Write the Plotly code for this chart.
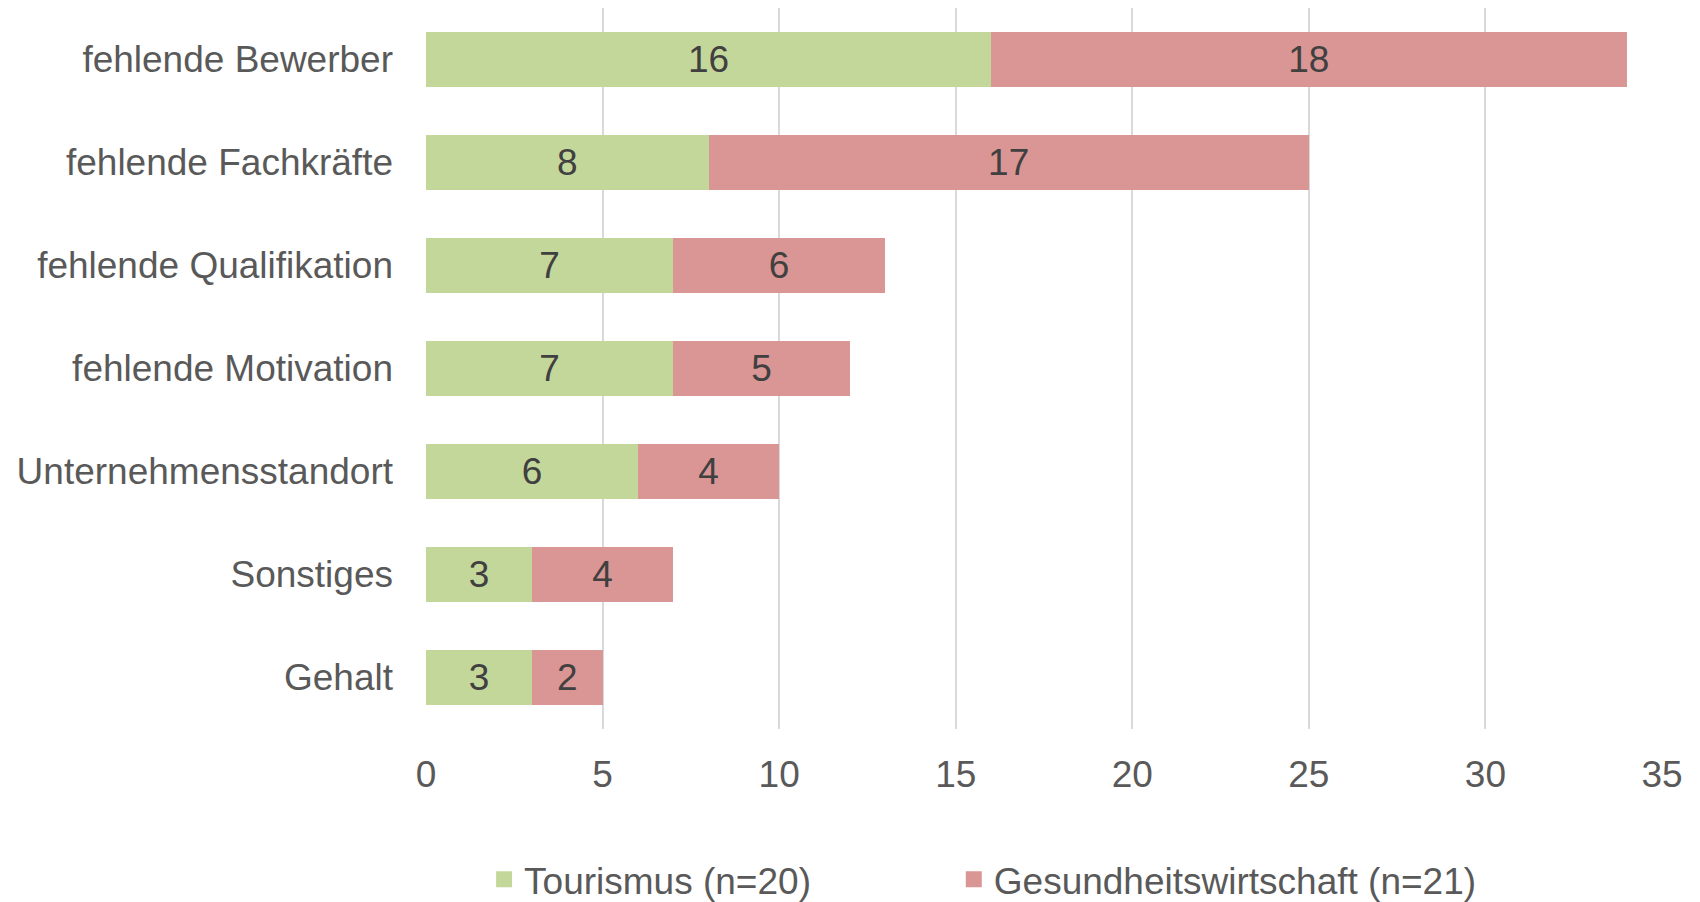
import plotly.graph_objects as go

# categories top to bottom as in the chart
categories = ["fehlende Bewerber", "fehlende Fachkräfte", "fehlende Qualifikation",
              "fehlende Motivation", "Unternehmensstandort", "Sonstiges", "Gehalt"]
tourismus = [16, 8, 7, 7, 6, 3, 3]
gesundheit = [18, 17, 6, 5, 4, 4, 2]
series_names = ["Tourismus (n=20)", "Gesundheitswirtschaft (n=21)"]
x_ticks = [0, 5, 10, 15, 20, 25, 30, 35]

GREEN = "#C4D79B"
RED = "#DA9694"
TXT = "#595959"
FONT = "Liberation Sans, Arial, sans-serif"
FS = 37

fig = go.Figure()
for name, vals, col, lg in [(series_names[0], tourismus, GREEN, "legend"),
                            (series_names[1], gesundheit, RED, "legend2")]:
    fig.add_trace(go.Bar(
        y=categories, x=vals, orientation="h", name=name,
        marker=dict(color=col, line=dict(width=0)),
        text=vals, textposition="inside", insidetextanchor="middle", textangle=0,
        textfont=dict(size=FS, color="#404040", family=FONT),
        showlegend=False,
    ))
    # legend entry with a bigger square, one legend per series
    fig.add_trace(go.Scatter(
        x=[None], y=[None], mode="markers", name=name, legend=lg,
        marker=dict(symbol="square", size=19, color=col),
    ))

leg = dict(orientation="h", xanchor="left", y=-0.209, yanchor="middle",
           font=dict(size=FS, color=TXT), itemwidth=30, bgcolor="rgba(0,0,0,0)")

# page body has an 8px margin, so the figure is offset by 8px
fig.update_layout(
    barmode="stack",
    bargap=0.46,
    width=1700, height=902,
    margin=dict(l=418, r=46, t=0, b=181, autoexpand=False),
    paper_bgcolor="white", plot_bgcolor="white",
    font=dict(family=FONT, size=FS, color=TXT),
    legend=dict(leg, x=0.047),
    legend2=dict(leg, x=0.427),
    xaxis=dict(range=[0, 35], tickvals=x_ticks, showgrid=True, gridcolor="#D9D9D9",
               gridwidth=1.5, zeroline=False, showline=False, ticks="",
               ticklabelstandoff=20, tickfont=dict(size=FS, color=TXT)),
    yaxis=dict(categoryorder="array", categoryarray=categories[::-1], showgrid=False,
               zeroline=False, showline=False, ticks="", ticklabelstandoff=32,
               tickfont=dict(size=FS, color=TXT)),
)

fig.write_html("out.html")
